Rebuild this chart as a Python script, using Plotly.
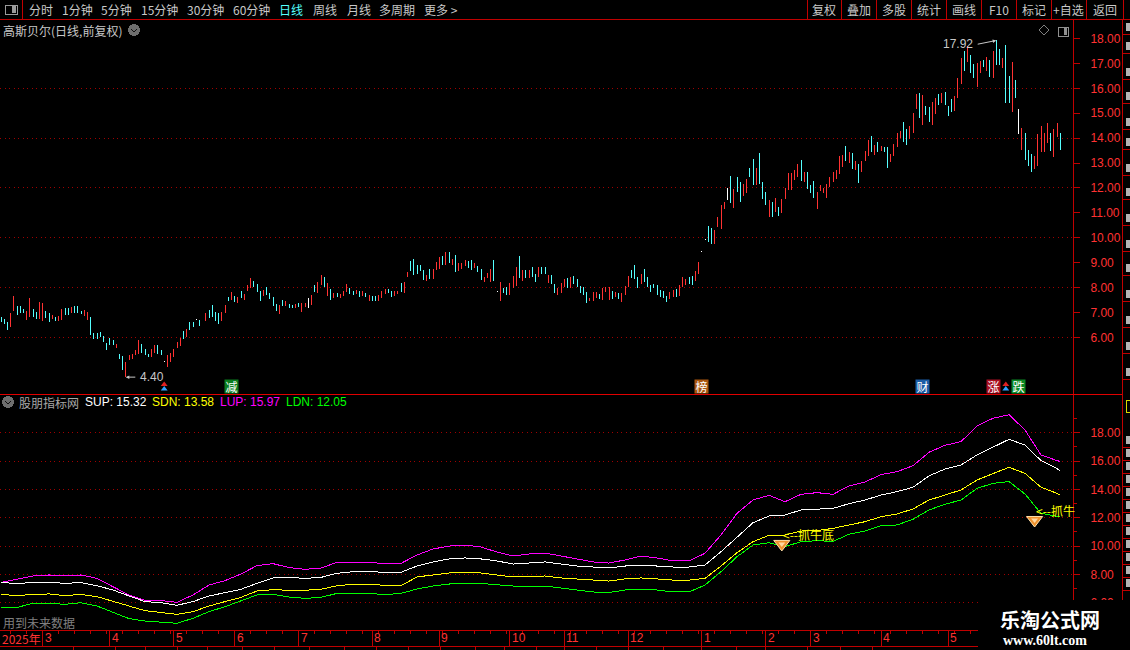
import plotly.graph_objects as go

W, H = 1130, 650
CJK = "Noto Sans CJK SC"
LAT = "Liberation Sans"
RED = "#ff3232"
DARK = "#c00000"
GREY = "#c8c8c8"

BAR_HIGH = [
 6.80,6.73,6.63,6.96,7.66,7.26,7.26,7.12,7.07,7.56, 7.12,7.03,7.40,7.39,7.07,6.99,6.89,6.83,6.85,7.12,
 7.16,7.16,7.20,7.26,7.26,7.07,7.10,7.01,6.83,6.18, 6.18,6.23,6.05,5.76,5.96,5.89,5.73,5.33,5.25,5.02,
 5.29,5.33,5.49,5.89,5.73,5.52,5.33,5.52,5.69,5.69, 5.49,5.05,5.29,5.35,5.52,5.80,5.96,6.25,6.32,6.63,
 6.63,6.73,6.69,6.78,6.96,7.10,7.30,7.00,6.96,7.00, 7.30,7.60,7.83,7.66,7.60,
 7.86,7.74,8.10,8.40,8.28,8.13,7.84,7.90,8.04,7.79, 7.63,7.34,7.30,7.50,7.46,7.34,7.30,7.34,7.39,7.39,
 7.37,7.58,7.70,8.10,8.24,8.50,8.44,8.20,7.94,7.78, 7.77,7.74,7.84,8.14,7.99,7.87,7.90,7.84,7.87,7.79,
 7.70,7.66,7.66,7.70,7.84,7.94,7.94,7.86,7.84,7.87, 8.20,8.24,8.64,9.07,9.16,8.91,8.91,8.71,8.50,8.74,
 8.74,9.04,9.24,9.28,9.43,9.43,9.15,9.31,9.00,9.00, 9.11,9.07,9.11,8.97,8.87,
 8.74,8.44,8.60,8.74,9.11,7.86,8.22,7.99,8.04,8.20, 8.46,8.83,9.27,8.71,8.71,8.71,8.83,8.54,8.83,8.83,
 8.83,8.50,8.50,8.14,7.98,8.18,8.34,8.38,8.42,8.46, 8.34,8.06,8.02,7.82,7.58,7.82,7.82,7.74,7.98,8.02,
 8.02,7.86,7.82,7.78,7.78,8.06,8.46,8.71,8.91,8.42, 8.54,8.74,8.42,8.10,8.14,8.10,7.90,7.86,7.66,7.82,
 7.90,7.94,8.10,8.42,8.34,8.42,8.46,8.67,9.03,9.47,
 9.96,10.47,10.38,10.31,10.82,11.32,11.43,11.99,12.48,11.95, 12.44,12.24,12.16,12.36,12.80,13.17,12.80,13.41,12.24,11.84,
 11.52,11.44,11.60,11.24,11.56,12.00,12.60,12.60,12.72,12.96, 13.13,12.64,12.64,12.12,12.28,11.84,12.12,12.00,12.16,12.44,
 12.64,12.72,13.29,13.33,13.69,13.45,13.41,13.09,12.96,13.09, 13.49,13.93,14.09,13.73,13.85,13.69,13.65,13.65,
 13.36,13.76,14.20,14.28,14.65,14.36,14.48,15.01,15.77,15.81, 15.73,15.29,15.25,15.45,15.61,15.77,15.81,15.85,15.29,
 15.57,15.69,16.43,17.23,17.50,17.70,17.34,16.98,17.02,17.10, 17.14,17.26,17.14,17.50,17.92,17.58,17.22,17.74,16.49,17.06,
 16.33,15.17,14.41,14.20,13.52,13.36,13.28,14.16,14.49,14.20, 14.60,14.20,14.37,14.60,14.20,
]
BAR_LOW = [
 6.63,6.53,6.29,6.43,7.07,6.89,6.99,6.96,6.69,6.83, 6.83,6.72,6.72,6.67,6.76,6.63,6.72,6.67,6.67,6.69,
 6.89,6.89,6.96,6.96,6.99,6.92,6.85,6.69,6.09,5.93, 5.92,6.02,5.81,5.49,5.69,5.69,5.56,5.11,4.69,4.40,
 5.09,5.11,5.29,5.33,5.35,5.29,5.19,5.19,5.35,5.33, 5.29,5.02,4.79,5.02,5.22,5.56,5.65,5.92,6.00,6.29,
 6.43,6.71,6.45,6.76,6.67,6.76,6.80,6.65,6.53,6.67, 6.96,7.46,7.50,7.43,7.36,
 7.57,7.50,7.84,7.97,8.01,7.80,7.46,7.66,7.70,7.54, 7.26,7.07,6.94,7.26,7.26,7.17,7.17,7.17,7.21,7.00,
 7.23,7.18,7.30,7.81,7.77,8.10,8.04,7.66,7.50,7.57, 7.61,7.57,7.66,7.80,7.74,7.70,7.73,7.62,7.66,7.61,
 7.46,7.46,7.46,7.46,7.57,7.74,7.77,7.62,7.66,7.74, 7.82,7.77,8.44,8.67,8.50,8.54,8.67,8.30,8.28,8.34,
 8.34,8.71,8.74,8.91,8.91,9.00,8.91,8.62,8.66,8.74, 8.87,8.80,8.71,8.77,8.64,
 8.30,8.22,8.40,8.22,8.26,7.82,7.46,7.77,7.70,7.70, 7.99,8.06,8.38,8.26,8.40,8.40,8.42,8.22,8.42,8.54,
 8.54,8.18,8.14,7.78,7.70,7.78,8.02,7.98,7.98,8.14, 8.02,7.78,7.70,7.38,7.46,7.46,7.58,7.54,7.50,7.82,
 7.50,7.54,7.62,7.54,7.42,7.70,8.02,8.38,8.34,7.98, 8.14,8.22,8.02,7.82,7.98,7.70,7.62,7.58,7.42,7.54,
 7.62,7.62,7.66,8.02,8.10,8.14,8.10,8.26,8.54,9.43,
 9.92,9.83,9.75,9.75,10.41,10.35,11.16,11.52,11.41,11.21, 11.85,11.45,11.69,11.80,12.44,12.12,12.12,12.16,11.56,11.32,
 10.84,10.84,11.04,10.88,11.00,11.56,11.92,11.92,12.32,12.44, 12.28,12.24,11.96,11.80,11.60,11.16,11.88,11.80,11.60,12.04,
 12.24,12.36,12.56,12.84,13.09,13.00,12.76,12.72,12.20,12.64, 13.09,13.29,13.45,13.33,13.45,13.49,13.45,12.80,
 13.04,13.28,13.64,14.00,13.84,13.72,13.96,14.20,15.17,14.81, 14.52,14.93,14.65,14.52,14.97,15.33,15.41,15.33,14.89,
 15.06,15.09,15.60,16.17,16.69,17.06,16.61,16.41,16.05,16.61, 16.85,16.69,16.45,16.41,16.94,16.94,16.81,15.41,15.41,15.05,
 15.61,14.16,13.52,13.12,12.88,12.64,12.76,12.88,13.44,13.44, 13.80,13.48,13.24,14.04,13.52,
]
BAR_TONE = list(
 "cccrrcccrr" "ccrrccrcrr" "ccrcccrrcc" "ccccccrccr" "rrrrcccrrc" "cwrrrrrcrc" "cwcwrccccr" "rcrcr"
 "crrrcccrcc" "ccrcrccrcr" "rwrcrrcrcr" "crrrccrcrc" "rccrrrccrr" "crrcccccrc" "rrrcrcrcrr" "rccrc"
 "crrrcwrccr" "rrcrcrccrc" "crccrrrcrc" "ccccrrrcrr" "rcrcrrrccc" "rccccccccr" "rcrrrccrrw"
 "wccrrrrwcr" "ccrrccrccc" "rcrcrrrrrr" "crcccrrrrr" "rrrrcrcrcr" "rrcrcrcc"
 "rrrrccrrrc" "rccrrcrcc"
 "crrrcrccrr" "crcrccrccr" "cwrcccrrrr" "rcrrc"
)

SUP = [7.44,7.35,7.44,7.44,7.37,7.42,7.20,6.90,6.48,6.08, 6.00,5.82,6.08,6.48,6.71,6.95,7.37,7.75,7.79,7.72,
       7.79,8.08,8.19,8.19,8.17,8.15, 8.59,8.88,9.09,9.16,9.09,8.95,8.73,8.80,8.88,8.73, 8.59,8.52,8.45,8.59,8.66,8.59,8.52,8.52,
       8.66,9.60,10.66,11.65,12.12,12.19,12.55,12.62,12.66,12.99, 13.25,13.60,13.84,14.15,14.95,15.44,15.72,16.43,16.97,17.53,
       17.13,16.03,15.46,15.32]
SDN = [6.59,6.50,6.59,6.62,6.50,6.59,6.43,6.12,5.77,5.44, 5.30,5.18,5.37,5.77,6.08,6.38,6.83,6.92,6.88,6.88,
       6.95,7.20,7.30,7.30,7.23,7.20, 7.82,7.96,8.10,8.17,8.10,7.96,7.82,7.82,7.89,7.75, 7.68,7.60,7.53,7.68,7.75,7.68,7.60,7.60,
       7.72,8.59,9.53,10.31,10.76,10.78,11.06,11.09,11.25,11.49, 11.72,12.07,12.26,12.62,13.25,13.60,13.96,14.66,15.09,15.56,
       15.13,14.15,13.72,13.58]
LUP = [7.44,7.65,7.89,7.96,7.89,7.96,7.72,7.13,6.55,6.17, 6.15,6.03,6.55,7.25,7.56,8.03,8.62,8.76,8.48,8.36,
       8.45,8.85,8.85,8.85,8.76,8.78, 9.37,9.79,10.00,10.07,9.93,9.58,9.30,9.44,9.51,9.30, 9.09,8.88,8.80,9.02,9.30,9.16,8.95,8.95,
       9.49,10.78,12.31,13.25,13.58,13.13,13.65,13.77,13.65,14.24, 14.52,15.04,15.25,15.67,16.62,17.11,17.37,18.47,19.02,19.27,
       18.19,16.43,16.03,15.97]
LDN = [5.67,5.67,5.96,5.96,5.89,6.00,5.77,5.30,4.88,4.71, 4.62,4.55,4.90,5.37,5.72,6.12,6.55,6.59,6.40,6.31,
       6.38,6.66,6.66,6.66,6.57,6.66, 6.97,7.18,7.32,7.39,7.36,7.25,7.18,7.18,7.18,7.04, 6.90,6.76,6.72,6.90,6.97,6.90,6.76,6.76,
       7.25,8.19,9.25,10.07,10.24,9.96,10.31,10.38,10.33,10.83, 11.06,11.44,11.49,11.89,12.55,12.95,13.25,14.07,14.43,14.55,
       13.67,12.31,12.10,12.05]

N = len(BAR_HIGH)
LINE_X = list(range(0, N - 1, 5)) + [N - 1]

PRICE_TICKS = list(range(6, 19))
PRICE_GRID = [6, 8, 10, 12, 14, 16]
IND_TICKS = [6, 8, 10, 12, 14, 16, 18]
MONTH_IDX = [13, 34, 54, 73, 93, 116, 137, 159, 176, 196, 219, 239, 253, 275, 296]
MONTH_LABELS = ["3", "4", "5", "6", "7", "8", "9", "10", "11", "12", "1", "2", "3", "4", "5"]

MENU = ["分时", "1分钟", "5分钟", "15分钟", "30分钟", "60分钟", "日线", "周线", "月线", "多周期", "更多 >"]
MENU_LEFT = [28, 61, 100, 140, 186, 232, 278, 312, 346, 378, 423]
BUTTONS = ["复权", "叠加", "多股", "统计", "画线", "F10", "标记", "+自选", "返回"]
BUTTON_SEP = [807, 841, 876, 911, 946, 981, 1016, 1051, 1086, 1123]
LEGEND = [("SUP: 15.32", 84, "#ffffff"), ("SDN: 13.58", 151, "#ffff00"),
          ("LUP: 15.97", 219, "#ff00ff"), ("LDN: 12.05", 285, "#00ff00")]
SIGNALS = [("减", 72, "#0b7d1e"), ("榜", 219, "#a9560f"), ("财", 288, "#1b5ca6"),
           ("涨", 310, "#a80f22"), ("跌", 318, "#0b8a25")]
SIGNAL_LEVEL = 4.04
ARROW_IDX = [51, 314]
GEM_IDX = [244, 323]
GEM_VAL = [10.15, 11.84]
TAB_SEP = [73, 115, 145, 177, 207, 242, 274, 309, 344, 376, 408, 440, 475, 504, 536, 564, 596, 628, 663, 701, 736, 765, 807, 840, 872]
SIDE_ROWS = [27, 46, 72, 96, 122, 142, 168, 192, 218, 244, 268, 294, 320, 346, 372, 440, 453, 466, 479, 492, 505, 518, 531, 544, 557, 570, 583]

px = lambda v: v / W
py = lambda v: 1 - v / H

# bar index -> pixel is 1 + 3.2 * index
x_range = [-1 / 3.2, (1073 - 1) / 3.2]
y1_range = [18 - (394 - 38.5) / 24.9, 18 - (19 - 38.5) / 24.9]
y2_range = [18 - (630 - 432.7) / 14.17, 18 - (394 - 432.7) / 14.17]

TONE_COLOR = {"r": RED, "c": "#55ffff", "w": "#ffffff"}

fig = go.Figure()
for tone, color in TONE_COLOR.items():
    xs, ys = [], []
    for i in range(N):
        if BAR_TONE[i] == tone:
            xs += [i, i, None]
            ys += [BAR_LOW[i], BAR_HIGH[i], None]
    fig.add_trace(go.Scatter(x=xs, y=ys, mode="lines", line=dict(color=color, width=1),
                             xaxis="x", yaxis="y", showlegend=False, hoverinfo="skip"))

for vals, col in [(LUP, "#ff00ff"), (SUP, "#ffffff"), (SDN, "#ffff00"), (LDN, "#00ff00")]:
    fig.add_trace(go.Scatter(x=LINE_X, y=vals, mode="lines", line=dict(color=col, width=1),
                             xaxis="x", yaxis="y2", showlegend=False, hoverinfo="skip"))

fig.add_trace(go.Scatter(x=GEM_IDX, y=GEM_VAL, mode="markers", xaxis="x", yaxis="y2", showlegend=False, hoverinfo="skip",
                         marker=dict(symbol="triangle-down", size=14, color="#f0922e", line=dict(color="#ffe0a8", width=1))))
fig.add_trace(go.Scatter(x=GEM_IDX, y=GEM_VAL, mode="markers", xaxis="x", yaxis="y2", showlegend=False, hoverinfo="skip",
                         marker=dict(symbol="triangle-down", size=6, color="#ffd9a0")))
fig.add_trace(go.Scatter(x=ARROW_IDX, y=[SIGNAL_LEVEL + 0.06] * 2, mode="markers", xaxis="x", yaxis="y", showlegend=False, hoverinfo="skip",
                         marker=dict(symbol="triangle-up", size=6, color="#e02020")))
fig.add_trace(go.Scatter(x=ARROW_IDX, y=[SIGNAL_LEVEL - 0.12] * 2, mode="markers", xaxis="x", yaxis="y", showlegend=False, hoverinfo="skip",
                         marker=dict(symbol="triangle-up", size=6, color="#30a0ff")))

ann = []
def text(s, x, y, color=GREY, size=12, family=CJK, anchor="left", **kw):
    ann.append(dict(text=s, x=px(x), y=py(y), xref="paper", yref="paper", xanchor=anchor, yanchor="middle",
                    showarrow=False, font=dict(color=color, size=size, family=family), borderpad=0, **kw))

for s, x in zip(MENU, MENU_LEFT):
    text(s, x, 9.5, color="#55ffff" if s == "日线" else GREY)
for i, s in enumerate(BUTTONS):
    text(s, (BUTTON_SEP[i] + BUTTON_SEP[i + 1]) / 2, 9.5, anchor="center")
text("高斯贝尔(日线,前复权)", 2, 30)
text("股朋指标网", 18, 402, color="#a8a8a8")
for s, x, c in LEGEND:
    text(s, x, 402, color=c, family=LAT)
text("用到未来数据", 2, 622, color="#808080")
text("2025年", 1, 638, color=RED)
text("<b>乐淘公式网</b>", 1050, 619, color="#ffffff", size=20, anchor="center")
text("<b>www.60lt.com</b>", 1045, 640, color="#ffffff", size=14, family="Liberation Serif", anchor="center")

for s, idx in zip(MONTH_LABELS, MONTH_IDX):
    ann.append(dict(text=s, x=idx, y=py(638), xref="x", yref="paper", xanchor="left", yanchor="middle", xshift=1,
                    showarrow=False, font=dict(color=RED, size=12, family=LAT), borderpad=0))
for s, idx, c in SIGNALS:
    ann.append(dict(text=s, x=idx, y=SIGNAL_LEVEL, xref="x", yref="y", xanchor="center", yanchor="middle", showarrow=False,
                    font=dict(color="#ffffff", size=12, family=CJK), bgcolor=c, width=13, height=13, borderpad=0))
ann.append(dict(text="4.40", x=39, y=4.40, xref="x", yref="y", xanchor="left", yanchor="middle", xshift=13, showarrow=False,
                font=dict(color=GREY, size=12, family=LAT), borderpad=0))
ann.append(dict(text="", x=39, y=4.40, xref="x", yref="y", ax=11, ay=0, axref="pixel", ayref="pixel", showarrow=True,
                arrowhead=2, arrowsize=0.7, arrowwidth=1, arrowcolor=GREY))
ann.append(dict(text="17.92", x=311, y=17.92, xref="x", yref="y", xanchor="right", yanchor="middle", xshift=-22, yshift=-4, showarrow=False,
                font=dict(color=GREY, size=12, family=LAT), borderpad=0))
ann.append(dict(text="", x=311, y=17.92, xref="x", yref="y", ax=-20, ay=4, axref="pixel", ayref="pixel", showarrow=True,
                arrowhead=2, arrowsize=0.7, arrowwidth=1, arrowcolor=GREY))
ann.append(dict(text="<--抓牛底", x=GEM_IDX[0], y=GEM_VAL[0], xref="x", yref="y2", xanchor="left", yanchor="middle", xshift=0, yshift=9,
                showarrow=False, font=dict(color="#ffff00", size=12, family=CJK), borderpad=0))
ann.append(dict(text="<--抓牛", x=GEM_IDX[1], y=GEM_VAL[1], xref="x", yref="y2", xanchor="left", yanchor="middle", xshift=0, yshift=9,
                showarrow=False, font=dict(color="#ffff00", size=12, family=CJK), borderpad=0))

shapes = []
def line(x0, y0, x1, y1, color=DARK, width=1):
    shapes.append(dict(type="line", xref="paper", yref="paper", x0=px(x0), y0=py(y0), x1=px(x1), y1=py(y1),
                       line=dict(color=color, width=width), layer="above"))
def rect(x0, y0, x1, y1, fill, color=None):
    shapes.append(dict(type="rect", xref="paper", yref="paper", x0=px(x0), y0=py(y0), x1=px(x1), y1=py(y1),
                       fillcolor=fill, line=dict(color=color or fill, width=1 if color else 0), layer="above"))

for v in PRICE_GRID:
    shapes.append(dict(type="line", xref="paper", yref="y", x0=0, x1=px(1073), y0=v, y1=v,
                       line=dict(color="#a00000", width=1, dash="1px 3.5px"), layer="below"))
for v in IND_TICKS:
    shapes.append(dict(type="line", xref="paper", yref="y2", x0=0, x1=px(1073), y0=v, y1=v,
                       line=dict(color="#a00000", width=1, dash="1px 3.5px"), layer="below"))

line(0, 19.5, W, 19.5)
line(0, 394.5, 1123, 394.5, color="#e00000")
line(0, 630.5, 1073, 630.5)
line(0, 646.5, 1073, 646.5)
line(22, 0, 22, 19)
for x in BUTTON_SEP:
    line(x, 0, x, 19)
line(1122.5, 19, 1122.5, 650)
for x in TAB_SEP:
    line(x, 646, x, 650)
for y in SIDE_ROWS:
    rect(1126, y - 4, W, y + 4, "#b4b4b4")
    line(1123, y + 7, W, y + 7)
rect(1126, 400, W, 412, "#000000", "#d8d800")

# small interface icons
rect(5.5, 5, 17, 14, "#000000", "#9a9a9a")
rect(12, 6, 16, 13, "#9a9a9a")
for cx, cy in [(134, 30), (8, 402)]:
    shapes.append(dict(type="circle", xref="paper", yref="paper", x0=px(cx - 6), x1=px(cx + 6), y0=py(cy - 6), y1=py(cy + 6),
                       fillcolor="#6e6e6e", line=dict(width=0), layer="above"))
    line(cx - 3, cy - 1, cx, cy + 2, color="#101010")
    line(cx, cy + 2, cx + 3, cy - 1, color="#101010")
for a, b, c, d in [(1044, 25, 1049, 30), (1049, 30, 1044, 35), (1044, 35, 1039, 30), (1039, 30, 1044, 25)]:
    line(a, b, c, d, color="#808080")
rect(1058, 27, 1068, 36, "#000000", "#909090")
rect(1064, 28, 1067, 35, "#909090")

# watermark panel covers the lower right corner
rect(978, 600, W, H, "#000000")

fig.update_layout(
    width=W, height=H, autosize=False, margin=dict(l=0, r=0, t=0, b=0, pad=0),
    paper_bgcolor="#000000", plot_bgcolor="#000000", showlegend=False,
    font=dict(family=LAT, color=GREY), annotations=ann, shapes=shapes,
    xaxis=dict(domain=[0, px(1073)], range=x_range, anchor="y2", showgrid=False, zeroline=False,
               showline=False, tickmode="array", tickvals=MONTH_IDX, ticktext=[""] * len(MONTH_IDX),
               ticks="outside", ticklen=16, tickcolor=DARK, tickwidth=1,
               minor=dict(ticks="outside", ticklen=3, tickcolor=DARK, tickmode="linear", tick0=3, dtick=5)),
    yaxis=dict(domain=[py(394), py(19)], range=y1_range, anchor="x", side="right", showgrid=False, zeroline=False,
               showline=True, linecolor=DARK, linewidth=1, tickmode="array", tickvals=PRICE_TICKS,
               ticktext=[f"{v:.2f}" for v in PRICE_TICKS], ticks="outside", ticklen=6, tickcolor=DARK,
               tickfont=dict(color=RED, size=12, family=LAT), ticklabelstandoff=8),
    yaxis2=dict(domain=[py(630), py(394)], range=y2_range, anchor="x", side="right", showgrid=False, zeroline=False,
                showline=True, linecolor=DARK, linewidth=1, tickmode="array", tickvals=IND_TICKS,
                ticktext=[f"{v:.2f}" for v in IND_TICKS], ticks="outside", ticklen=6, tickcolor=DARK,
                tickfont=dict(color=RED, size=12, family=LAT), ticklabelstandoff=8,
                minor=dict(ticks="outside", ticklen=3, tickcolor=DARK, tickmode="linear", tick0=7, dtick=2)),
)

assert len(BAR_HIGH) == len(BAR_LOW) == len(BAR_TONE), (len(BAR_HIGH), len(BAR_LOW), len(BAR_TONE))
CRISP = ("var s=document.createElement('style');"
         "s.textContent='.js-line,.shapelayer path{shape-rendering:crispEdges}';"
         "document.head.appendChild(s);"
         "document.body.style.margin='0';document.body.style.background='#000';"
         "document.documentElement.style.overflow='hidden';")
fig.write_html("out.html", config={"displayModeBar": False}, post_script=CRISP)
